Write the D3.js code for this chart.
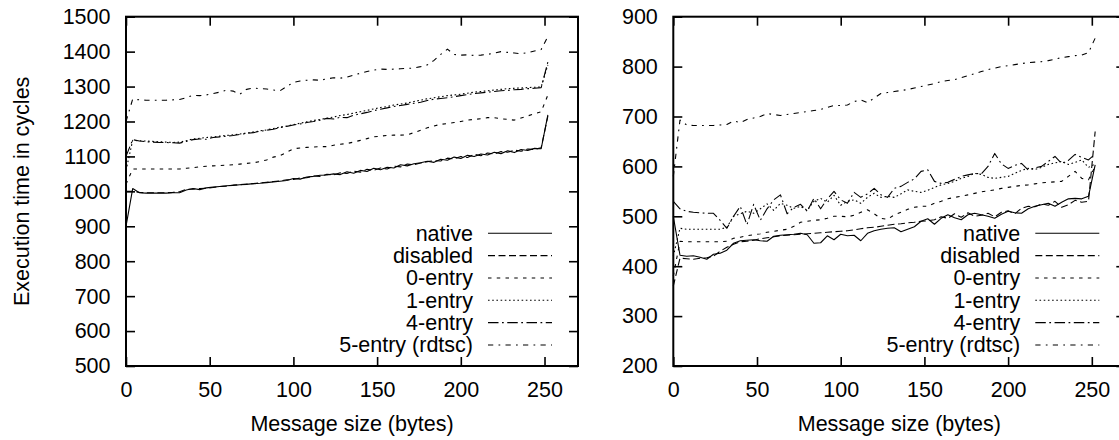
<!DOCTYPE html>
<html>
<head>
<meta charset="UTF-8">
<title></title>
<script src="https://d3js.org/d3.v7.min.js"></script>
<style>
  body { margin: 0; background: #fff; }
  text { font-family: "Liberation Sans", Arial, Helvetica, sans-serif; fill: #000; }
</style>
</head>
<body>
<div id="chart"></div>
<script>
// message sizes (bytes)
const sizes = [0,4,8,12,16,20,24,28,32,36,40,44,48,52,56,60,64,68,72,76,80,84,88,92,96,100,104,108,112,116,120,124,
               128,132,136,140,144,148,152,156,160,164,168,172,176,180,184,188,192,196,200,204,208,212,216,220,224,228,232,236,240,244,248,252]

const names = ['native','disabled','0-entry','1-entry','4-entry','5-entry (rdtsc)']
const xTicks = [0,50,100,150,200,250]
const yTicksL = [500,600,700,800,900,1000,1100,1200,1300,1400,1500]
const yTicksR = [200,300,400,500,600,700,800,900]

// left plot
const nativeL = [900,1008,996,995,995,995,995,996,996,1004,1008,1005,1010,1012,1014,1016,1017,1019,1020,1022,1023,1025,1027,1029,1031,1037,1035,1041,1043,1046,1047,1050,
                 1048,1056,1052,1060,1057,1066,1062,1069,1067,1076,1073,1079,1082,1086,1083,1092,1089,1098,1094,1103,1100,1107,1104,1112,1108,1116,1111,1120,1117,1123,1122,1219]
const disabledL = [1000,1000,997,996,996,996,996,997,999,1006,1006,1008,1009,1011,1014,1015,1018,1019,1021,1022,1024,1026,1028,1030,1033,1034,1038,1039,1044,1043,1049,1047,
                   1053,1051,1058,1055,1063,1060,1067,1064,1072,1070,1078,1076,1081,1085,1088,1087,1095,1093,1100,1097,1106,1102,1110,1107,1114,1112,1118,1115,1121,1120,1125,1215]
const entry0L = [1020,1064,1064,1064,1064,1064,1064,1064,1064,1066,1068,1070,1072,1073,1074,1075,1076,1078,1080,1082,1085,1090,1098,1102,1112,1122,1124,1126,1127,1128,1128,1132,
                 1135,1137,1141,1146,1151,1156,1158,1160,1161,1161,1162,1168,1175,1182,1187,1192,1194,1197,1200,1204,1206,1208,1211,1211,1208,1206,1204,1210,1216,1222,1228,1276]
const entry1L = [1060,1146,1145,1144,1143,1142,1141,1140,1141,1145,1150,1152,1154,1156,1158,1160,1162,1164,1167,1170,1173,1176,1180,1184,1187,1191,1195,1199,1203,1206,1209,1213,
                 1217,1220,1224,1228,1232,1236,1240,1243,1247,1250,1253,1257,1261,1265,1268,1271,1274,1276,1278,1281,1284,1286,1288,1290,1292,1294,1295,1296,1297,1298,1299,1362]
const entry4L = [1100,1148,1144,1142,1141,1140,1140,1139,1138,1143,1148,1150,1149,1154,1156,1158,1160,1163,1166,1168,1172,1175,1178,1182,1186,1190,1193,1197,1200,1204,1209,1207,
                 1212,1211,1218,1222,1226,1231,1235,1239,1243,1246,1249,1252,1255,1260,1264,1266,1268,1271,1274,1277,1280,1282,1284,1286,1288,1289,1291,1292,1294,1295,1297,1370]
const entry5L = [1200,1264,1262,1261,1261,1261,1261,1262,1263,1268,1275,1274,1276,1280,1284,1290,1287,1278,1292,1296,1294,1293,1290,1288,1300,1312,1316,1318,1319,1318,1322,1325,
                 1324,1327,1333,1338,1343,1347,1350,1349,1350,1351,1352,1353,1357,1362,1375,1392,1407,1392,1390,1391,1389,1390,1392,1396,1400,1398,1396,1394,1397,1402,1406,1443]

// right plot
const nativeR = [500,422,420,421,418,414,424,426,432,446,451,452,453,451,450,460,462,463,464,466,463,446,447,461,453,464,461,462,451,466,471,474,
                 476,477,469,474,479,490,495,484,496,503,497,493,503,506,503,500,496,504,510,507,506,515,520,523,526,520,528,535,536,535,540,603]
const disabledR = [360,416,415,414,416,417,420,430,438,444,449,450,452,455,457,459,461,462,463,464,465,466,467,468,469,470,471,473,475,477,478,480,
                   482,484,485,487,488,490,491,493,499,496,505,498,507,500,502,506,499,508,511,505,516,520,519,525,522,530,518,523,532,528,530,670]
const entry0R = [380,450,449,449,449,449,449,449,450,456,458,461,463,465,468,470,472,474,480,488,490,492,493,496,500,500,499,502,508,513,505,496,
                 494,503,508,514,518,520,520,526,530,535,538,540,543,546,549,551,553,556,558,560,562,563,565,567,568,569,570,580,590,576,573,600]
const entry1R = [420,476,474,474,474,474,474,474,478,500,505,510,506,515,525,512,526,522,516,520,512,530,536,528,542,522,530,533,526,538,546,538,
                 540,538,545,553,550,548,552,558,563,566,570,576,580,586,584,578,576,578,580,586,592,596,594,598,604,607,610,604,608,613,598,605]
const entry4R = [530,515,510,508,507,506,506,492,476,500,520,483,524,492,515,533,543,505,518,524,510,536,515,535,550,533,526,548,538,545,556,543,
                 538,556,560,568,575,590,593,570,566,568,574,580,583,586,585,600,626,605,596,602,606,593,597,600,610,620,606,612,624,618,613,625]
const entry5R = [580,693,683,682,682,682,682,683,684,691,688,694,697,700,706,704,702,704,706,708,710,712,714,718,722,722,723,730,733,728,737,746,
                 748,750,752,754,757,760,763,766,770,772,774,778,782,786,790,794,797,800,802,804,806,808,809,810,812,815,818,820,822,823,828,857]

const width = 1119
const height = 440
const plotTop = 16.7, plotBottom = 366
const fontSize = '21.5px'
const dashes = ['none','7,3.5','3.5,5.25','1.6,2.6','10.5,3.5,1.75,3.5','5.25,5.25,1.75,5.25']

const svg = d3.select('#chart').append('svg').attr('width',width).attr('height',height)

const panels = [
  {left:126, right:578, yDomain:[500,1500], yTicks:yTicksL, data:[nativeL,disabledL,entry0L,entry1L,entry4L,entry5L], title:true},
  {left:673.3, right:1125.3, yDomain:[200,900], yTicks:yTicksR, data:[nativeR,disabledR,entry0R,entry1R,entry4R,entry5R], title:false}
]

panels.forEach(p => {
  const x = d3.scaleLinear().domain([0,270]).range([p.left,p.right])
  const y = d3.scaleLinear().domain(p.yDomain).range([plotBottom,plotTop])
  const g = svg.append('g')

  // data lines
  const line = d3.line().x((d,i)=>x(sizes[i])).y(d=>y(d))
  p.data.forEach((s,k)=>{
    g.append('path').datum(s).attr('d',line)
      .attr('fill','none').attr('stroke','#000').attr('stroke-width',1.1)
      .attr('stroke-dasharray',dashes[k]).attr('stroke-linejoin','round')
  })

  // axes, ticks inward
  const axStyle = a => {
    a.select('.domain').remove()
    a.selectAll('line').attr('stroke','#000').attr('stroke-width',1.6)
    a.selectAll('text').attr('font-size',fontSize).attr('fill','#000')
      .attr('font-family','"Liberation Sans", Arial, Helvetica, sans-serif')
  }
  g.append('g').attr('transform',`translate(0,${plotBottom})`)
    .call(d3.axisBottom(x).tickValues(xTicks).tickSize(-9).tickPadding(15.5).tickFormat(d3.format('d'))).call(axStyle)
  g.append('g').attr('transform',`translate(0,${plotTop})`)
    .call(d3.axisTop(x).tickValues(xTicks).tickSize(-9).tickFormat('')).call(axStyle)
  g.append('g').attr('transform',`translate(${p.left},0)`)
    .call(d3.axisLeft(y).tickValues(p.yTicks).tickSize(-9).tickPadding(15.5).tickFormat(d3.format('d'))).call(axStyle)
  g.append('g').attr('transform',`translate(${p.right},0)`)
    .call(d3.axisRight(y).tickValues(p.yTicks).tickSize(-9).tickFormat('')).call(axStyle)

  // frame
  g.append('rect').attr('x',p.left).attr('y',plotTop)
    .attr('width',p.right-p.left).attr('height',plotBottom-plotTop)
    .attr('fill','none').attr('stroke','#000').attr('stroke-width',2)

  // x title
  g.append('text').attr('x',(p.left+p.right)/2).attr('y',431)
    .attr('text-anchor','middle').attr('font-size',fontSize).text('Message size (bytes)')

  // legend
  names.forEach((n,k)=>{
    const ly = 233.3 + k*22.33
    g.append('text').attr('x',p.right-105).attr('y',ly+7.5)
      .attr('text-anchor','end').attr('font-size',fontSize).text(n)
    g.append('line').attr('x1',p.right-90).attr('x2',p.right-26).attr('y1',ly).attr('y2',ly)
      .attr('stroke','#000').attr('stroke-width',1.1).attr('stroke-dasharray',dashes[k])
  })

  if (p.title) {
    svg.append('text').attr('transform',`translate(29,${(plotTop+plotBottom)/2}) rotate(-90)`)
      .attr('text-anchor','middle').attr('font-size',fontSize).text('Execution time in cycles')
  }
})
</script>
</body>
</html>
